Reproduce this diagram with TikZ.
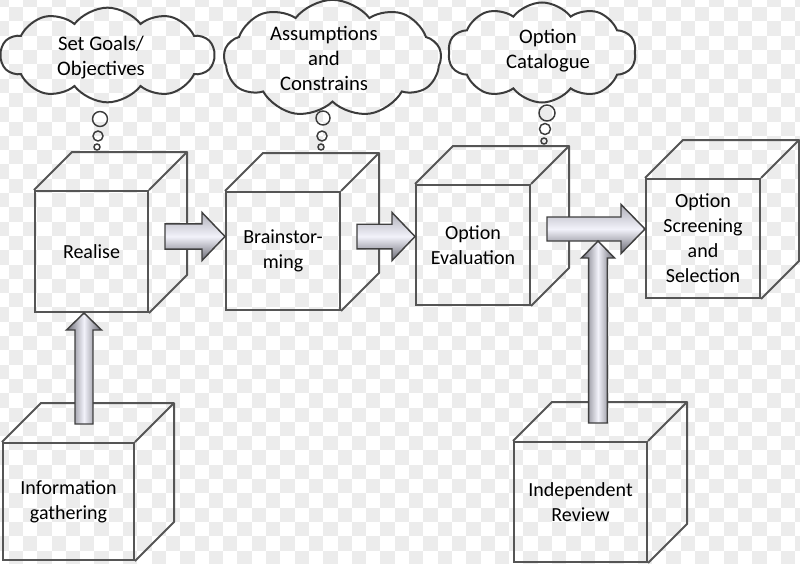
\documentclass[tikz,border=0pt]{standalone}
\usepackage{fontspec}
\setmainfont{Carlito}
\usetikzlibrary{shapes.symbols,calc}
\definecolor{edge}{RGB}{85,85,85}
\definecolor{cedge}{RGB}{60,60,60}
\definecolor{chk}{RGB}{236,236,236}
\definecolor{adark}{RGB}{105,105,115}
\definecolor{amid}{RGB}{175,175,185}
\definecolor{alight}{RGB}{242,242,250}
\tikzset{
  cube/.style={draw=edge, line width=1.5pt, rectangle, inner sep=0pt, align=center,
    font=\fontsize{15}{18.75}\selectfont},
  cubeline/.style={draw=edge, line width=1.5pt, line join=round},
  thought/.style={cloud, cloud puffs=10, cloud puff arc=105, cloud ignores aspect,
    draw=cedge, line width=1.5pt, inner sep=0pt},
  bubble/.style={circle, draw=cedge, line width=1.1pt, inner sep=0pt},
  cloudtext/.style={align=center, inner sep=0pt, font=\fontsize{15.5}{18.75}\selectfont},
  harrow/.style={draw=black!75, line width=1.1pt, line join=miter,
    top color=amid, bottom color=adark, middle color=alight},
  varrow/.style={draw=black!75, line width=1.1pt, line join=miter,
    left color=adark, right color=adark, middle color=alight},
}
\newcommand\cubeback[2]{%
  \draw[cubeline] (#1.north west) -- ++(#2,-#2) -- ($(#1.north east)+(#2,-#2)$)
    -- ($(#1.south east)+(#2,-#2)$) -- (#1.south east);
  \draw[cubeline] (#1.north east) -- ++(#2,-#2);
}
% horizontal block arrow: start, tip, shaft half, head half, head length
\newcommand\hblock[5]{%
  \shade[harrow] let \p1=(#1), \p2=(#2) in
    (\x1,{\y2+#3}) -- ({\x2-#5},{\y2+#3}) -- ({\x2-#5},{\y2+#4}) -- (\x2,\y2)
    -- ({\x2-#5},{\y2-#4}) -- ({\x2-#5},{\y2-#3}) -- (\x1,{\y2-#3}) -- cycle;
}
% vertical block arrow (pointing up): start, tip, shaft half, head half, head length
\newcommand\vblock[5]{%
  \shade[varrow] let \p1=(#1), \p2=(#2) in
    ({\x2-#3},\y1) -- ({\x2-#3},{\y2-#5}) -- ({\x2-#4},{\y2-#5}) -- (\x2,\y2)
    -- ({\x2+#4},{\y2-#5}) -- ({\x2+#3},{\y2-#5}) -- ({\x2+#3},\y1) -- cycle;
}
\begin{document}
\begin{tikzpicture}[x=0.75pt,y=-0.75pt]
\useasboundingbox (0,0) rectangle (800,564);
% checkerboard background
\begin{scope}
\clip (0,0) rectangle (800,564);
\fill[white] (0,0) rectangle (800,564);
\foreach \j in {0,...,40}{
  \pgfmathtruncatemacro\s{mod(\j,2)}
  \pgfmathtruncatemacro\t{\s+2}
  \foreach \i in {\s,\t,...,57}{
    \fill[chk] ({-5.7+14.3*\i},{-7.2+14.3*\j}) rectangle ++(14.3,14.3);
  }
}
\end{scope}

% cubes
\node[cube, minimum width=84.75pt, minimum height=90.75pt] (realise) at (91.5,251.5) {Realise};
\node[cube, minimum width=85.5pt, minimum height=88.5pt] (brain) at (283,251) {Brainstor-\\ming};
\node[cube, minimum width=85.5pt, minimum height=90pt] (eval) at (473,245) {Option\\Evaluation};
\node[cube, minimum width=85.5pt, minimum height=89.25pt] (screen) at (703,238.5) {Option\\Screening\\and\\Selection};
\node[cube, minimum width=98.25pt, minimum height=87.75pt] (info) at (68.5,501.5) {Information\\gathering};
\node[cube, minimum width=99.75pt, minimum height=90pt] (review) at (580.5,502) {Independent\\Review};
\cubeback{realise}{38}
\cubeback{brain}{38}
\cubeback{eval}{38}
\cubeback{screen}{38}
\cubeback{info}{39}
\cubeback{review}{39}

% block arrows
\coordinate (a1s) at (165,236.5);
\coordinate (a2s) at (357,236.5);
\coordinate (a3s) at (547,229);
\coordinate (v1s) at (84,424);
\coordinate (v2s) at (598,423);
\coordinate (v2e) at ($(v2s |- a3s)+(0,12)$);
\hblock{a1s}{brain.west |- a1s}{9.4pt}{18pt}{17.25pt}
\hblock{a2s}{eval.west |- a2s}{9.2pt}{18pt}{17.25pt}
\hblock{a3s}{screen.west |- a3s}{9pt}{18.4pt}{18pt}
\vblock{v1s}{v1s |- realise.south}{6.75pt}{13.1pt}{12.75pt}
\vblock{v2s}{v2e}{7.1pt}{12.4pt}{12.75pt}

% thought clouds
\node[thought, minimum width=160pt, minimum height=71pt] (c1) at (107.5,55) {};
\node[thought, minimum width=163pt, minimum height=88pt, cloud puffs=9, shape border rotate=20] (c2) at (332.5,58.5) {};
\node[thought, minimum width=141pt, minimum height=75pt] (c3) at (542,52.5) {};
\node[cloudtext] (c1t) at (101,57.5) {Set Goals/\\Objectives};
\node[cloudtext] (c2t) at (324,58) {Assumptions\\and\\Constrains};
\node[cloudtext] (c3t) at (548,50.5) {Option\\Catalogue};

% thought bubbles
\node[bubble, minimum size=11.25pt] (b11) at (100,119) {};
\node[bubble, minimum size=7.5pt] (b12) at (98,136) {};
\node[bubble, minimum size=4.5pt] (b13) at (97,147) {};
\node[bubble, minimum size=10.5pt] (b21) at (323,118) {};
\node[bubble, minimum size=7.5pt] (b22) at (322,136) {};
\node[bubble, minimum size=4.5pt] (b23) at (321,147) {};
\node[bubble, minimum size=12pt] (b31) at (547,113) {};
\node[bubble, minimum size=8.25pt] (b32) at (545,129) {};
\node[bubble, minimum size=4.5pt] (b33) at (544,141) {};
\end{tikzpicture}
\end{document}
